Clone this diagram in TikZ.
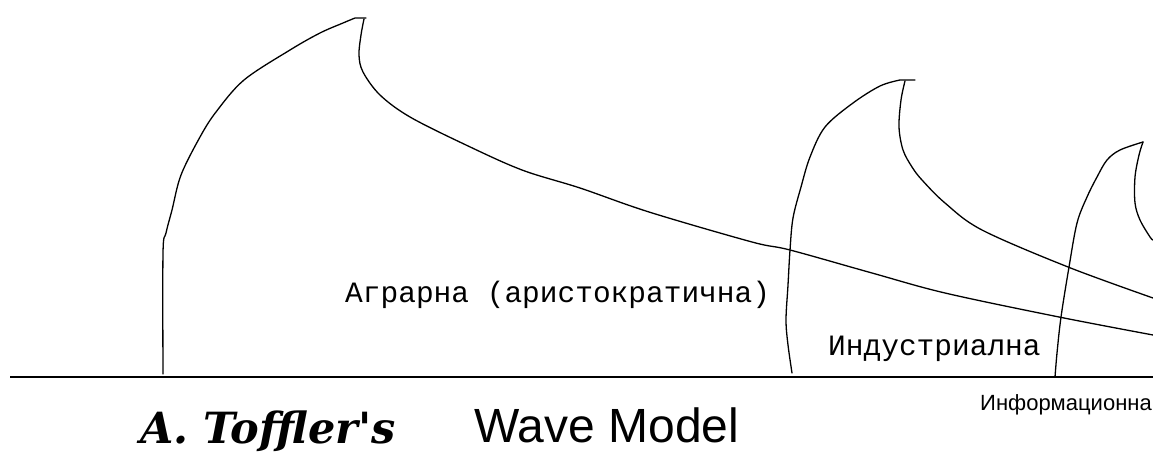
\documentclass[tikz,border=0pt]{standalone}
\usepackage{fontspec}
\newfontfamily\courfont{Liberation Mono}
\newfontfamily\arialfont{Liberation Sans}
\newfontfamily\clarfont{DejaVu Serif}
\usetikzlibrary{positioning}

\tikzset{
  wave/.style={line width=1.3pt, line join=round, line cap=round},
  ground/.style={line width=2pt},
  era/.style={inner sep=0pt, anchor=base west, font=\courfont\fontsize{29.5}{30}\selectfont},
}

\begin{document}
\begin{tikzpicture}[x=1pt, y=-1pt]
  \useasboundingbox (0,0) rectangle (1153,457);
  % Ligne de base
  \draw[ground] (10,377) -- (1153,377);
  % Première vague
  \draw[wave] plot[smooth, tension=.55] coordinates {(163,374) (163,253) (166,233) (172,210)
        (181,175) (200,137) (216,112) (244,80) (290,50) (320,33) (343,23) (355,18)} -- (366,18);
  \draw[wave] plot[smooth, tension=.55] coordinates {(364,19) (361,35) (359,55) (363,72)
        (380,95) (410,117) (466,145) (522,170) (580,188) (649,212) (752,242) (790,250)
        (872,273) (945,293) (1059,317) (1153,335)};
  % Deuxième vague
  \draw[wave] plot[smooth, tension=.55] coordinates {(792,373) (788,345) (786,320) (788,285)
        (790,250) (793,218) (801,187) (810,157) (825,127) (853,103) (880,86) (900,80)} -- (915,80);
  \draw[wave] plot[smooth, tension=.55] coordinates {(905,81) (901,100) (899,127) (903,150)
        (912,167) (922,180) (945,203) (982,230) (1068,267) (1153,298)};
  % Troisième vague
  \draw[wave] plot[smooth, tension=.55] coordinates {(1055,377) (1057,353) (1061,317)
        (1069,267) (1077,223) (1087,197) (1097,177) (1107,160) (1120,150) (1143,142)};
  \draw[wave] plot[smooth, tension=.55] coordinates {(1143,142) (1139,155) (1135,177)
        (1135,203) (1140,220) (1150,237) (1153,240)};
  % Étiquettes
  \node[era] (agr) at (345,302) {Аграрна (аристократична)};
  \node[era] (ind) at (828,355) {Индустриална};
  \node[inner sep=0pt, anchor=base west, font=\arialfont\fontsize{22}{24}\selectfont]
    (inf) at (980,410) {Информационна};
  % Titre
  \node[inner sep=0pt, anchor=base west, font=\clarfont\bfseries\itshape\fontsize{43}{46}\selectfont]
    (author) at (140,443) {A. Toffler's};
  \node[inner sep=0pt, anchor=base west, font=\arialfont\fontsize{48}{52}\selectfont]
    (title) at (474,442) {Wave Model};
\end{tikzpicture}
\end{document}
